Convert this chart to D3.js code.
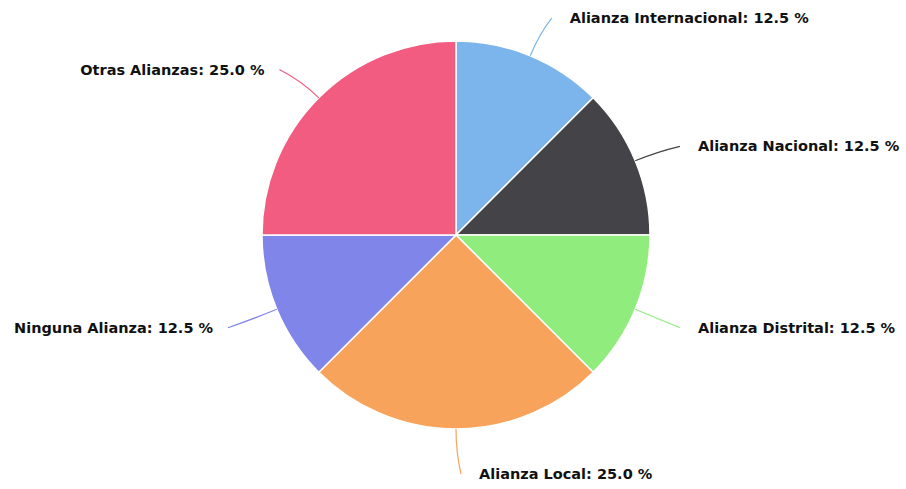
<!DOCTYPE html>
<html>
<head>
<meta charset="utf-8">
<script src="https://cdn.jsdelivr.net/npm/d3@7"></script>
<style>
  body { margin: 0; background: #fff; }
  svg { display: block; }
</style>
</head>
<body>
<div id="chart"></div>
<script>
const width = 906;
const height = 489;

// data
const categories = ["Alianza Internacional", "Alianza Nacional", "Alianza Distrital",
  "Alianza Local", "Ninguna Alianza", "Otras Alianzas"];
const percents = [12.5, 12.5, 12.5, 25.0, 12.5, 25.0];
const colors = ["#7cb5ec", "#434348", "#90ed7d", "#f7a35c", "#8085e9", "#f15c80"];

const cx = 456, cy = 235;
const radius = 194;
const labelDist = 43;

const svg = d3.select("#chart").append("svg")
    .attr("width", width)
    .attr("height", height);

const pie = d3.pie().sort(null).value(d => d);
const arcs = pie(percents);

const arc = d3.arc().innerRadius(0).outerRadius(radius);

const g = svg.append("g").attr("transform", `translate(${cx},${cy})`);

g.selectAll("path.slice")
  .data(arcs)
  .join("path")
    .attr("class", "slice")
    .attr("d", arc)
    .attr("fill", (d, i) => colors[i])
    .attr("stroke", "#fff")
    .attr("stroke-width", 1.5)
    .attr("stroke-linejoin", "round");

// label anchor points
arcs.forEach(d => {
  const a = (d.startAngle + d.endAngle) / 2;
  d.mid = a;
  d.right = Math.sin(a) > -1e-6;
  const rr = radius + labelDist;
  d.ax = Math.sin(a) * rr;
  d.ay = -Math.cos(a) * rr;
  d.ex = Math.sin(a) * radius;
  d.ey = -Math.cos(a) * radius;
});

// connectors
g.selectAll("path.conn")
  .data(arcs)
  .join("path")
    .attr("class", "conn")
    .attr("fill", "none")
    .attr("stroke", (d, i) => colors[i])
    .attr("stroke-width", 1.2)
    .attr("d", d => {
      const endX = d.ax + (d.right ? 5 : -9);
      const endY = d.ay + 2;
      const mx = Math.sin(d.mid) * (radius + labelDist * 0.55);
      const my = -Math.cos(d.mid) * (radius + labelDist * 0.55);
      return `M${d.ex},${d.ey}Q${mx},${my} ${endX},${endY}`;
    });

// labels
g.selectAll("text.lbl")
  .data(arcs)
  .join("text")
    .attr("class", "lbl")
    .attr("x", d => d.ax + (d.right ? 23 : -24))
    .attr("y", d => d.ay + 2)
    .attr("dy", "0.35em")
    .attr("text-anchor", d => d.right ? "start" : "end")
    .style("font-family", "'DejaVu Sans', Verdana, sans-serif")
    .style("font-weight", "bold")
    .style("font-size", "14.5px")
    .style("fill", "#111")
    .text((d, i) => `${categories[i]}: ${percents[i].toFixed(1)} %`);
</script>
</body>
</html>
